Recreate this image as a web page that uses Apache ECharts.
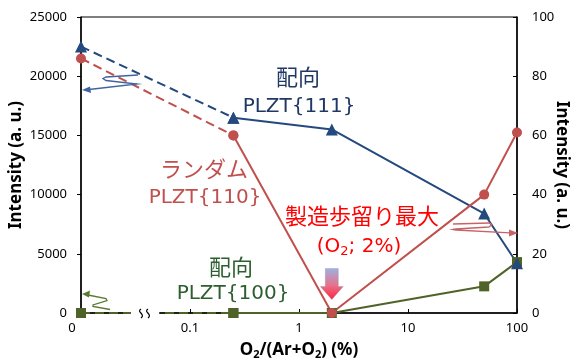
<!DOCTYPE html>
<html>
<head>
<meta charset="utf-8">
<script src="https://cdn.jsdelivr.net/npm/echarts@6/dist/echarts.min.js"></script>
<style>
  html, body { margin: 0; padding: 0; background: #fff; }
  #chart { width: 572px; height: 360px; }
</style>
</head>
<body>
<div id="chart"></div>
<script>
// O2 share of the sputtering gas (%) for each film; 0 % is drawn at the left end of the broken log axis
const o2Percent = [0, 0.25, 2, 50, 100];
const zeroPosition = 0.01;

// XRD peak intensities
const plzt111 = [22500, 16500, 15500, 8400, 4200];  // left axis
const plzt110 = [86, 60, 0, 40, 61];                 // right axis
const plzt100 = [0, 0, 0, 2250, 4300];               // left axis

// tick labels of the O2 axis
const xTickValues = [0.01, 0.1, 1, 10, 100];
const xTickLabels = ['0', '0.1', '1', '10', '100'];

const BLUE = '#23497D', RED = '#C0504D', GREEN = '#4F6228';
const LATIN = '"Noto Sans", sans-serif';
const ANNOT = '"DejaVu Sans", "Noto Sans CJK JP", sans-serif';
const CJK = '"Noto Sans CJK JP", sans-serif';

const points = vals => vals.map((v, i) => [o2Percent[i] === 0 ? zeroPosition : o2Percent[i], v]);
const dashedPart = vals => points(vals).slice(0, 2);
const solidPart = vals => points(vals).slice(1);

function tickText(v) {
  for (let i = 0; i < xTickValues.length; i++) {
    if (Math.abs(Math.log10(v) - Math.log10(xTickValues[i])) < 1e-6) {
      return i === 0 ? '{z|' + xTickLabels[i] + '}' : xTickLabels[i];
    }
  }
  return '';
}

function lineSeries(name, vals, color, yIndex, symbol, size, dashed, extra) {
  return Object.assign({
    name: name,
    type: 'line',
    yAxisIndex: yIndex,
    data: dashed ? dashedPart(vals) : solidPart(vals),
    symbol: symbol,
    symbolSize: size,
    showSymbol: true,
    clip: false,
    lineStyle: { color: color, width: 2, type: dashed ? [9, 5] : 'solid' },
    itemStyle: { color: color, borderWidth: 0 },
    emphasis: { disabled: true },
    animation: false
  }, extra || {});
}

// the small pointer arrows that tie each curve to its axis
function squiggle(pts, color, head) {
  return [
    { type: 'polyline', z: 100, shape: { points: pts },
      style: { stroke: color, lineWidth: 1.3, fill: null } },
    { type: 'polygon', z: 100, shape: { points: head },
      style: { fill: color } }
  ];
}

const chart = echarts.init(document.getElementById('chart'), null, { renderer: 'canvas' });

chart.setOption({
  animation: false,
  backgroundColor: '#fff',
  grid: {
    left: 81, right: 55, top: 17, bottom: 47,
    containLabel: false, outerBoundsMode: 'none',
    show: true, borderColor: '#000', borderWidth: 1, backgroundColor: 'transparent'
  },
  xAxis: {
    type: 'log',
    logBase: 10,
    min: 0.01,
    max: 100,
    axisLine: { show: true, lineStyle: { color: '#000', width: 1.5 } },
    axisTick: { show: true, inside: true, length: 4, lineStyle: { color: '#000', width: 1 } },
    minorTick: { show: false },
    splitLine: { show: false },
    axisLabel: {
      color: '#000', fontSize: 13, fontFamily: LATIN, margin: 9,
      formatter: tickText,
      rich: { z: { color: '#000', fontSize: 13, fontFamily: LATIN, padding: [0, 18, 0, 0] } }
    },
    name: '{n|O}{s|2}{n|/(Ar+O}{s|2}{n|) (%)}',
    nameLocation: 'middle',
    nameGap: 27,
    nameMoveOverlap: false,
    nameTextStyle: {
      rich: {
        n: { fontSize: 17, fontWeight: 'bold', fontFamily: LATIN, color: '#000' },
        s: { fontSize: 11, fontWeight: 'bold', fontFamily: LATIN, color: '#000', padding: [9, 0, 0, 0] }
      }
    }
  },
  yAxis: [
    {
      type: 'value', position: 'left', min: 0, max: 25000, interval: 5000,
      axisLine: { show: true, lineStyle: { color: '#000', width: 1.5 } },
      axisTick: { show: true, inside: false, length: 4, lineStyle: { color: '#000' } },
      splitLine: { show: false },
      axisLabel: { color: '#000', fontSize: 13, fontFamily: LATIN, margin: 14, formatter: v => String(v) },
      name: 'Intensity (a. u.)', nameLocation: 'middle', nameRotate: 90, nameGap: 56,
      nameMoveOverlap: false,
      nameTextStyle: { fontSize: 17, fontWeight: 'bold', fontFamily: LATIN, color: '#000' }
    },
    {
      type: 'value', position: 'right', min: 0, max: 100, interval: 20,
      axisLine: { show: true, lineStyle: { color: '#000', width: 1.5 } },
      axisTick: { show: true, inside: true, length: 4, lineStyle: { color: '#000' } },
      splitLine: { show: false },
      axisLabel: { color: '#000', fontSize: 13, fontFamily: LATIN, margin: 15, formatter: v => String(v) },
      name: 'Intensity (a. u.)', nameLocation: 'middle', nameRotate: -90, nameGap: 36,
      nameMoveOverlap: false,
      nameTextStyle: { fontSize: 17, fontWeight: 'bold', fontFamily: LATIN, color: '#000' }
    }
  ],
  series: [
    lineSeries('PLZT{100}', plzt100, GREEN, 0, 'rect', 10, true),
    lineSeries('PLZT{100}', plzt100, GREEN, 0, 'rect', 10, false),
    lineSeries('PLZT{111}', plzt111, BLUE, 0, 'triangle', 12, true),
    lineSeries('PLZT{111}', plzt111, BLUE, 0, 'triangle', 12, false),
    lineSeries('PLZT{110}', plzt110, RED, 1, 'circle', 10, true),
    lineSeries('PLZT{110}', plzt110, RED, 1, 'circle', 10, false, {
      markPoint: {
        silent: true,
        symbol: 'path://M5,0 L18,0 L18,18 L23,18 L11.5,31 L0,18 L5,18 Z',
        symbolSize: [23, 31],
        symbolOffset: [0, -29],
        label: { show: false },
        itemStyle: {
          color: new echarts.graphic.LinearGradient(0, 0, 0, 1, [
            { offset: 0, color: '#9CB2E4' },
            { offset: 0.55, color: '#E8708A' },
            { offset: 1, color: '#FF2040' }
          ]),
          borderColor: 'rgba(140,140,150,0.5)',
          borderWidth: 0.6
        },
        data: [{ coord: [2, 0] }]
      }
    })
  ],
  graphic: [
    // axis break on the O2 axis between 0 and 0.1
    { type: 'rect', z: 100, shape: { x: 131, y: 309, width: 28, height: 8 }, style: { fill: '#fff' } },
    { type: 'bezierCurve', z: 101, shape: { x1: 141, y1: 309, cpx1: 136, cpy1: 312, cpx2: 146, cpy2: 314, x2: 141, y2: 318 }, style: { stroke: '#000', lineWidth: 1.2, fill: null } },
    { type: 'bezierCurve', z: 101, shape: { x1: 148, y1: 309, cpx1: 143, cpy1: 312, cpx2: 153, cpy2: 314, x2: 148, y2: 318 }, style: { stroke: '#000', lineWidth: 1.2, fill: null } },

    ...squiggle([[138, 75], [106, 77], [103, 78.5], [106, 80.5], [137, 84], [89, 89.5]], '#3F64A0', [[82, 90], [90, 86.5], [91, 93]]),
    ...squiggle([[453, 224], [489, 223], [492, 224.5], [489, 227], [456, 229], [453, 229.5], [456, 230], [510, 232.8]], '#C86464', [[518, 233], [509, 229.5], [509, 236.5]]),
    ...squiggle([[88, 295], [106, 298.5], [107, 300.5], [93, 305], [93, 306.5], [110, 309.5]], '#5A7A32', [[82, 294], [90, 290.5], [89, 297.5]]),

    // annotations
    { type: 'text', z: 100, x: 298, y: 77, style: { text: '配向', fill: '#1F3864', font: '22px ' + CJK, align: 'center', verticalAlign: 'middle' } },
    { type: 'text', z: 100, x: 299, y: 107, style: { text: 'PLZT{111}', fill: '#1F3864', font: '20px ' + ANNOT, align: 'center', verticalAlign: 'middle' } },
    { type: 'text', z: 100, x: 204, y: 169, style: { text: 'ランダム', fill: RED, font: '22px ' + CJK, align: 'center', verticalAlign: 'middle' } },
    { type: 'text', z: 100, x: 205, y: 198, style: { text: 'PLZT{110}', fill: RED, font: '20px ' + ANNOT, align: 'center', verticalAlign: 'middle' } },
    { type: 'text', z: 100, x: 362, y: 216, style: { text: '製造歩留り最大', fill: '#FF0000', font: '22px ' + CJK, align: 'center', verticalAlign: 'middle' } },
    { type: 'text', z: 100, x: 359, y: 247, style: {
        text: '{a|(O}{b|2}{a|; 2%)}', align: 'center', verticalAlign: 'middle',
        rich: {
          a: { fill: '#FF0000', fontSize: 20, fontFamily: ANNOT },
          b: { fill: '#FF0000', fontSize: 13, fontFamily: ANNOT, padding: [10, 0, 0, 0] }
        } } },
    { type: 'text', z: 100, x: 231, y: 267, style: { text: '配向', fill: '#2C5E2E', font: '22px ' + CJK, align: 'center', verticalAlign: 'middle' } },
    { type: 'text', z: 100, x: 233, y: 294, style: { text: 'PLZT{100}', fill: '#2C5E2E', font: '20px ' + ANNOT, align: 'center', verticalAlign: 'middle' } }
  ]
});
</script>
</body>
</html>
